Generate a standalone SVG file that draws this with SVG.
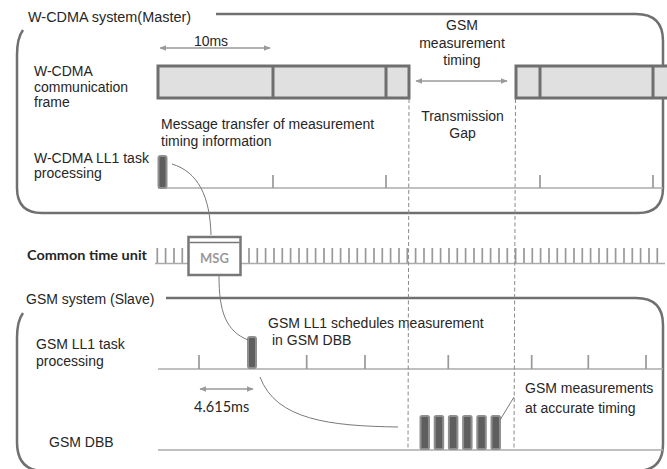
<svg xmlns="http://www.w3.org/2000/svg" width="667" height="469" viewBox="0 0 667 469">
<defs>
<marker id="ah" viewBox="0 0 10 10" refX="9" refY="5" markerWidth="7" markerHeight="7" markerUnits="userSpaceOnUse" orient="auto-start-reverse">
<path d="M0,1 L10,5 L0,9 Z" fill="#9a9a9a"/>
</marker>
<style>
.t{font-family:"Liberation Sans",Arial,sans-serif;font-size:14px;fill:#262626}
.c{font-family:Lato,"Open Sans",sans-serif}
.frame{fill:none;stroke:#707070;stroke-width:2.5}
.bar{fill:#e0e0e0;stroke:#6f6f6f;stroke-width:3}
.div{stroke:#6f6f6f;stroke-width:3}
.axis{stroke:#ababab;stroke-width:1.6;fill:none}
.tick{stroke:#999999;stroke-width:1.7;fill:none}
.dash{stroke:#8a8a8a;stroke-width:1;stroke-dasharray:4 2.5;fill:none}
.task{fill:#5e5e5e;stroke:#8f8f8f;stroke-width:2}
.arr{stroke:#9a9a9a;stroke-width:1.6;fill:none;marker-start:url(#ah);marker-end:url(#ah)}
.conn{stroke:#7a7a7a;stroke-width:1;fill:none}
</style>
</defs>
<rect width="667" height="469" fill="#ffffff"/>

<g id="wcdma-system">
<path class="frame" d="M23,30 Q17,38 17,55 L17,188 Q17,213 42,213 L638,213 Q663,213 663,188 L663,41 Q663,14 636,14 L216,14"/>
<text class="t" x="28" y="22" textLength="163" lengthAdjust="spacingAndGlyphs">W-CDMA system(Master)</text>
</g>

<g id="wcdma-frame">
<text class="t"><tspan x="34" y="76">W-CDMA</tspan><tspan x="34" y="92">communication</tspan><tspan x="34" y="107">frame</tspan></text>
<rect class="bar" x="158" y="66" width="251" height="32"/>
<line class="div" x1="273" y1="66" x2="273" y2="98"/>
<line class="div" x1="386" y1="66" x2="386" y2="98"/>
<rect class="bar" x="516" y="66" width="170" height="32"/>
<line class="div" x1="540" y1="66" x2="540" y2="98"/>
<line class="div" x1="653" y1="66" x2="653" y2="98"/>
</g>

<g id="ten-ms">
<line class="arr" x1="160" y1="48" x2="270" y2="48"/>
<text class="t" x="211" y="46" text-anchor="middle">10ms</text>
</g>

<g id="gsm-measurement-timing">
<text class="t" text-anchor="middle"><tspan x="462" y="30">GSM</tspan><tspan x="462" y="48">measurement</tspan><tspan x="462" y="65">timing</tspan></text>
<line class="arr" x1="416" y1="81" x2="507" y2="81"/>
</g>

<g id="transmission-gap">
<text class="t" text-anchor="middle"><tspan x="462.5" y="121">Transmission</tspan><tspan x="462.5" y="138">Gap</tspan></text>
</g>

<g id="message-transfer-label">
<text class="t"><tspan x="161" y="129">Message transfer of measurement</tspan><tspan x="161" y="146">timing information</tspan></text>
</g>

<g id="wcdma-ll1">
<text class="t"><tspan x="34" y="163">W-CDMA LL1 task</tspan><tspan x="34" y="178">processing</tspan></text>
<line class="axis" x1="158" y1="188" x2="663" y2="188"/>
<path class="tick" d="M273,175V188 M386,175V188 M540,175V188 M653,175V188"/>
<rect class="task" x="158.5" y="156" width="8" height="32" rx="2"/>
</g>

<g id="common-time-unit">
<text class="c" x="27" y="260" font-size="14" font-weight="bold" fill="#262626" textLength="120" lengthAdjust="spacingAndGlyphs">Common time unit</text>
<line class="axis" x1="155" y1="263.5" x2="665" y2="263.5"/>
<path class="tick" d="M157.3,248V263 M165.6,248V263 M174,248V263 M182.3,248V263 M249,248V263 M257.3,248V263 M265.6,248V263 M274,248V263 M282.3,248V263 M290.6,248V263 M299,248V263 M307.3,248V263 M315.6,248V263 M324,248V263 M332.3,248V263 M340.6,248V263 M349,248V263 M357.3,248V263 M365.6,248V263 M374,248V263 M382.3,248V263 M390.6,248V263 M399,248V263 M407.3,248V263 M415.6,248V263 M424,248V263 M432.3,248V263 M440.6,248V263 M449,248V263 M457.3,248V263 M465.6,248V263 M474,248V263 M482.3,248V263 M490.6,248V263 M499,248V263 M507.3,248V263 M515.6,248V263 M524,248V263 M532.3,248V263 M540.6,248V263 M549,248V263 M557.3,248V263 M565.6,248V263 M574,248V263 M582.3,248V263 M590.6,248V263 M599,248V263 M607.3,248V263 M615.6,248V263 M624,248V263 M632.3,248V263 M640.6,248V263 M649,248V263 M657.3,248V263"/>
</g>

<g id="msg">
<rect x="188.5" y="237" width="52" height="38" fill="#ffffff" stroke="#777777" stroke-width="2.5"/>
<line x1="189.5" y1="242.5" x2="239.5" y2="242.5" stroke="#777777" stroke-width="1.5"/>
<text class="c" x="214.5" y="263" font-size="13" font-weight="bold" fill="#9a9a9a" text-anchor="middle">MSG</text>
</g>

<g id="gsm-system">
<path class="frame" d="M23,313 Q17,321 17,338 L17,442 Q17,471 44,471 L636,471 Q663,471 663,444 L663,325 Q663,298 636,298 L166,298"/>
<text class="t" x="26" y="304">GSM system (Slave)</text>
</g>

<g id="gsm-ll1">
<text class="t"><tspan x="36" y="349">GSM LL1 task</tspan><tspan x="36" y="366">processing</tspan></text>
<line class="axis" x1="158" y1="369" x2="663" y2="369"/>
<path class="tick" d="M199,355V369 M306.7,355V369 M365,355V369 M448.3,355V369 M531.7,355V369 M588.3,355V369 M646,355V369"/>
<rect class="task" x="248" y="337" width="8" height="31" rx="2"/>
</g>

<g id="gsm-ll1-label">
<text class="t"><tspan x="268" y="328">GSM LL1 schedules measurement</tspan><tspan x="272" y="345">in GSM DBB</tspan></text>
</g>

<g id="gsm-frame-length">
<line class="arr" x1="200" y1="389" x2="253" y2="389"/>
<text class="c" x="194" y="412" font-size="14.5" fill="#262626">4.615ms</text>
</g>

<g id="gsm-dbb">
<text class="t" x="49" y="447">GSM DBB</text>
<line class="axis" x1="158" y1="450" x2="663" y2="450"/>
<rect class="task" x="420.5" y="416" width="8.5" height="33" rx="1.5"/>
<rect class="task" x="434.7" y="416" width="8.5" height="33" rx="1.5"/>
<rect class="task" x="448.9" y="416" width="8.5" height="33" rx="1.5"/>
<rect class="task" x="463.1" y="416" width="8.5" height="33" rx="1.5"/>
<rect class="task" x="477.3" y="416" width="8.5" height="33" rx="1.5"/>
<rect class="task" x="491.5" y="416" width="8.5" height="33" rx="1.5"/>
</g>

<g id="gsm-measurements-label">
<text class="t"><tspan x="525" y="393">GSM measurements</tspan><tspan x="525" y="413">at accurate timing</tspan></text>
</g>

<g id="connectors">
<line class="dash" x1="409" y1="99" x2="408" y2="448"/>
<line class="dash" x1="515.5" y1="99" x2="514" y2="448"/>
<path class="conn" d="M172,164 C198,172 210,196 211,235"/>
<path class="conn" d="M219,276 C219,312 226,331 248,340"/>
<path class="conn" d="M260,377 C276,420 330,426 398,427"/>
<line class="conn" x1="500" y1="420" x2="514" y2="397"/>
</g>
</svg>
